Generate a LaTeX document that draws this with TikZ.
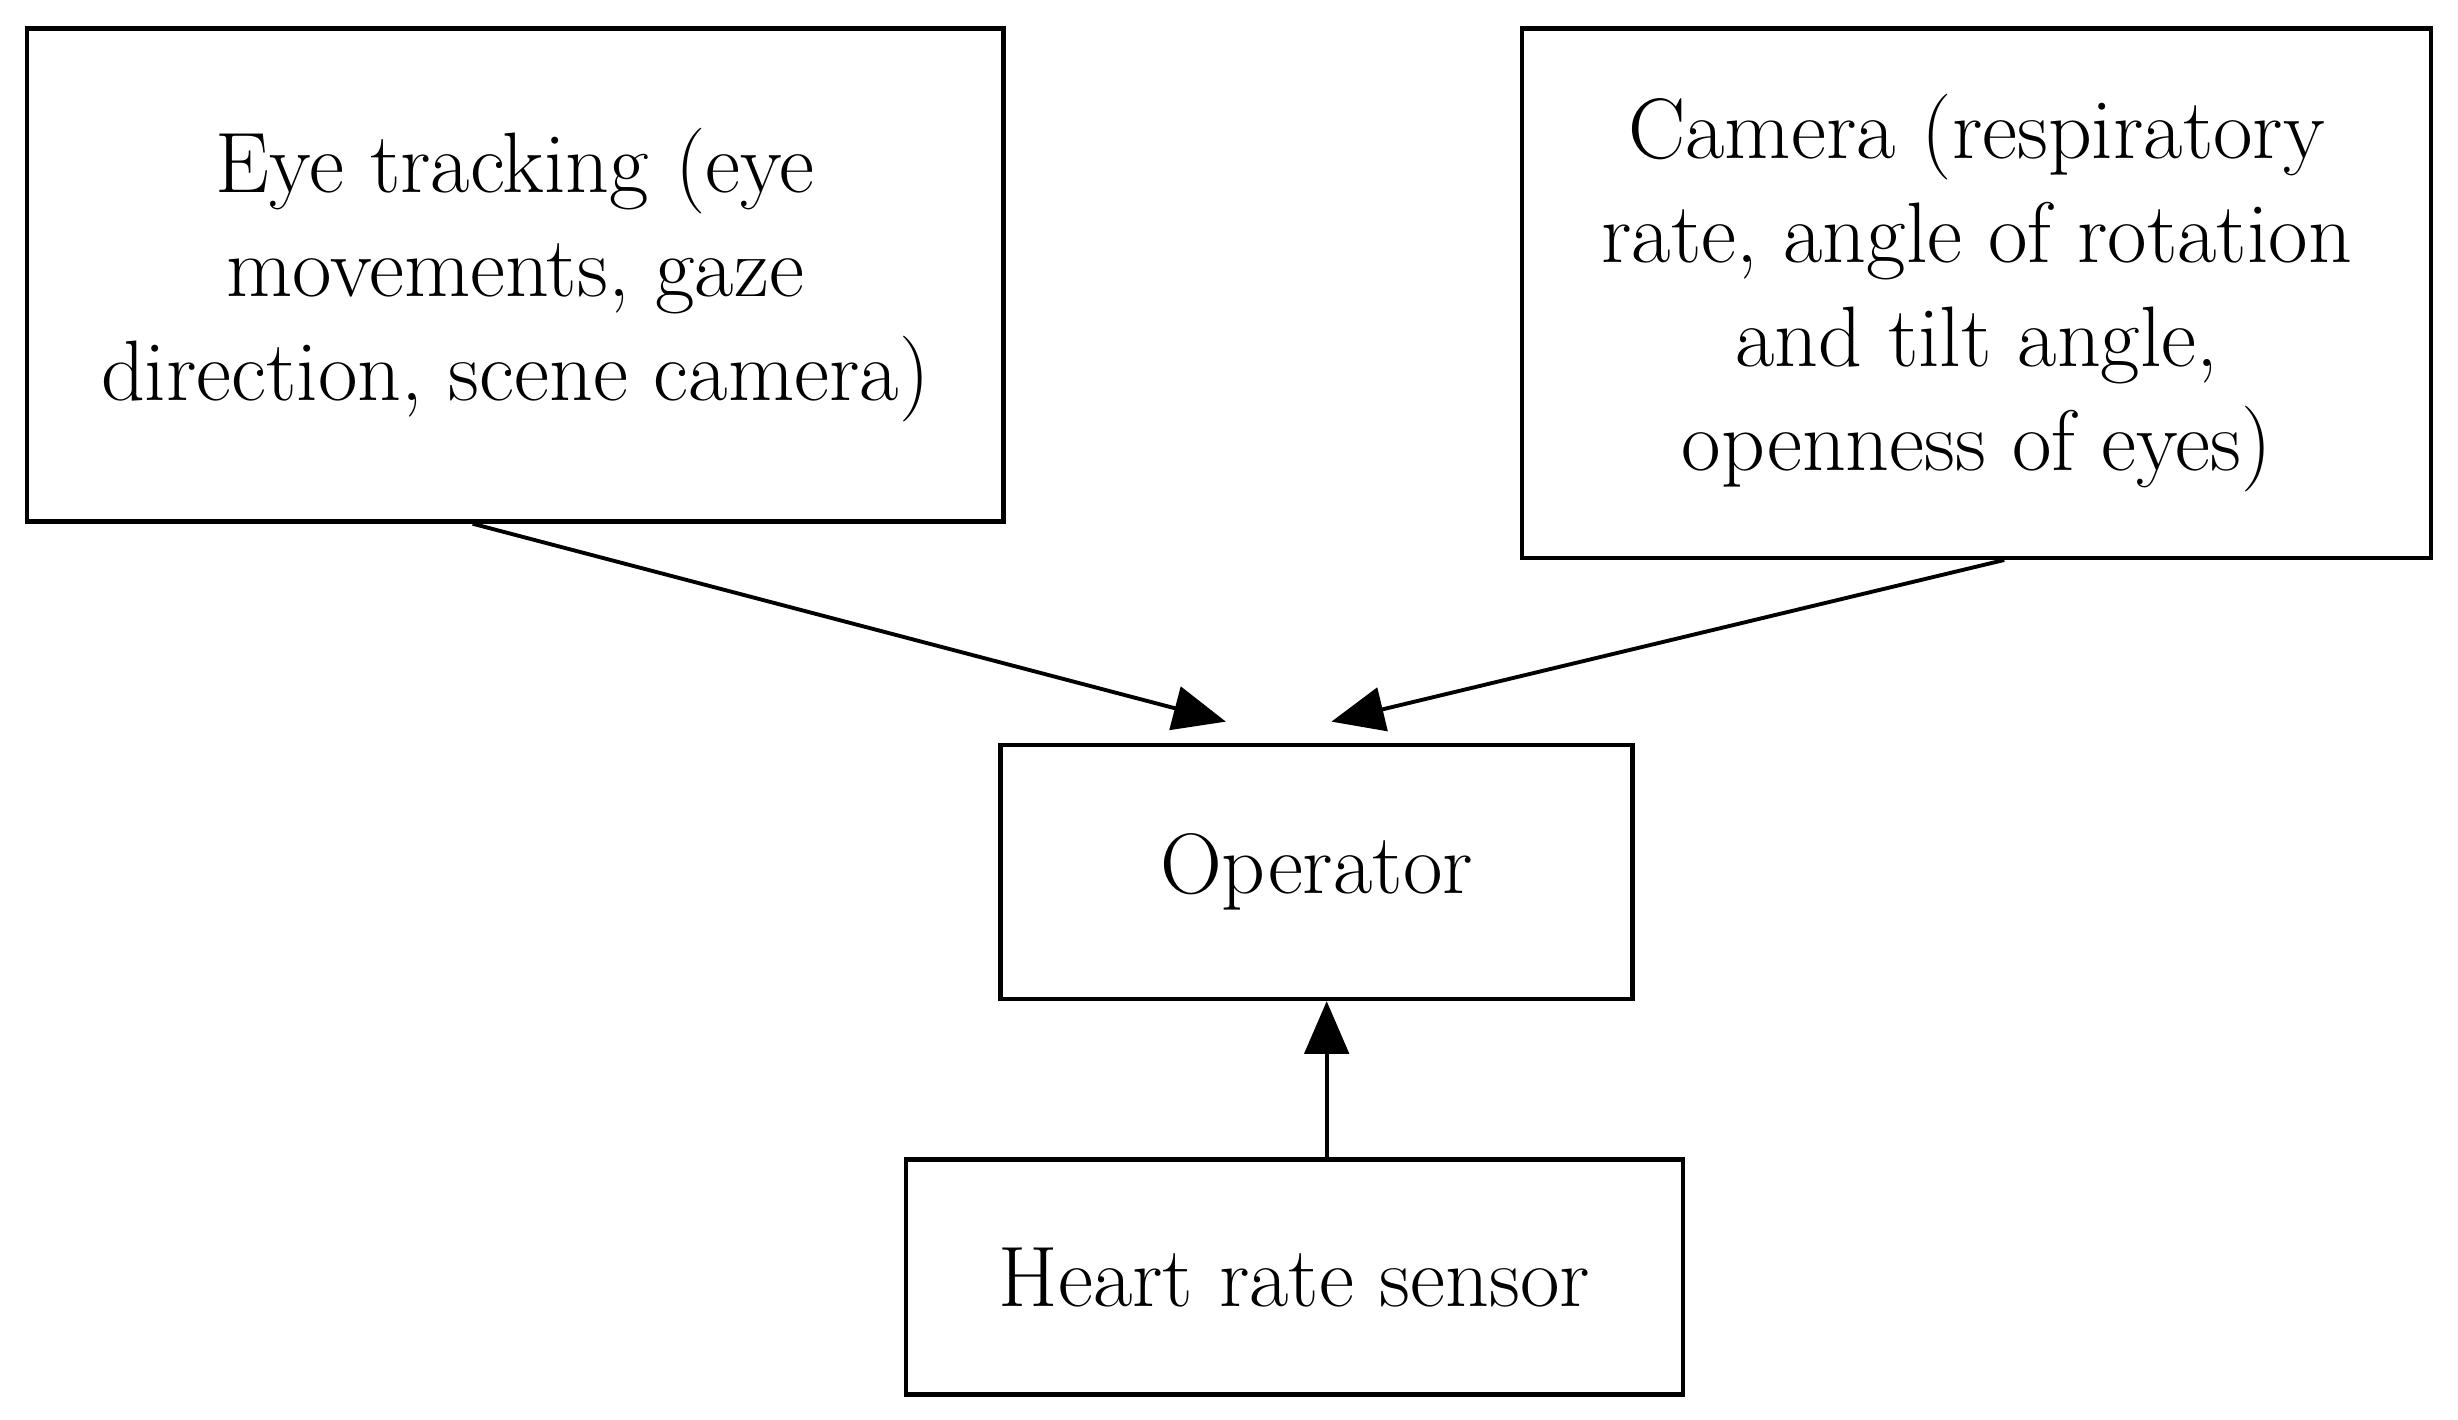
\documentclass[tikz,border=0pt]{standalone}
\usetikzlibrary{arrows.meta}
\begin{document}
\begin{tikzpicture}[x=0.02cm,y=-0.02cm,
  box/.style={draw,line width=1.6pt,inner sep=0pt,align=center,font=\fontsize{31}{37.5}\selectfont},
  arr/.style={line width=1.4pt,-{Triangle[length=19pt,width=16pt]}}]
\useasboundingbox[fill=white] (0,0) rectangle (1560,901);
\node[box,minimum width=620*0.02cm,minimum height=313*0.02cm] (eye) at (327,174.5) {Eye tracking (eye\\movements, gaze\\direction, scene camera)};
\node[box,minimum width=577*0.02cm,minimum height=336*0.02cm] (cam) at (1254.5,186) {Camera (respiratory\\rate, angle of rotation\\and tilt angle,\\openness of eyes)};
\node[box,minimum width=401*0.02cm,minimum height=161*0.02cm] (op) at (835.5,553.5) {Operator};
\node[box,minimum width=493*0.02cm,minimum height=149*0.02cm] (hr) at (821.5,810.5) {Heart rate sensor};
\coordinate (a) at (778,458);
\coordinate (b) at (845,458);
\draw[arr] (eye.south -| 300,0) -- (a);
\draw[arr] (cam.south -| 1272,0) -- (b);
\draw[arr] (hr.north -| 842,0) -- (op.south -| 842,0);
\end{tikzpicture}
\end{document}
